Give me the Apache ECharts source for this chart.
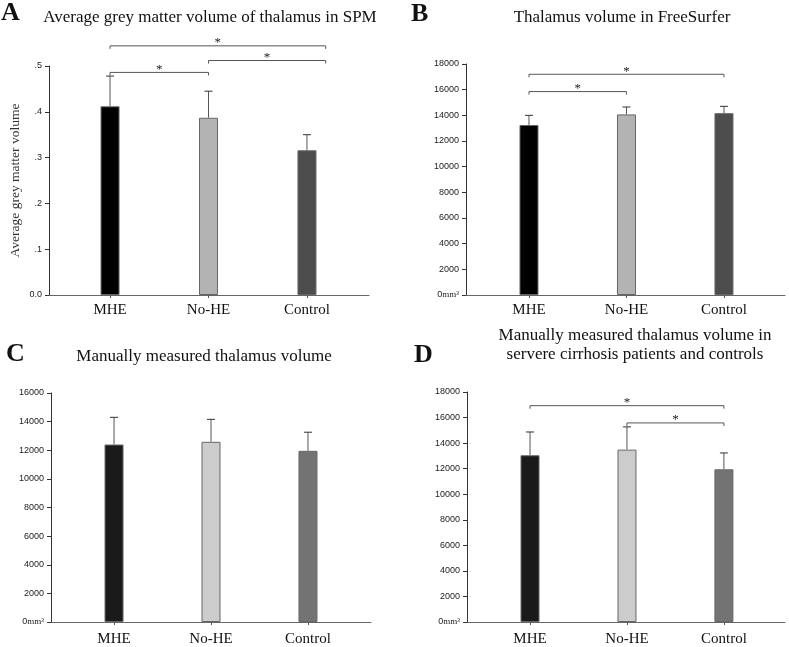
<!DOCTYPE html>
<html><head><meta charset="utf-8">
<script src="https://cdn.jsdelivr.net/npm/echarts@6/dist/echarts.min.js"></script>
<style>html,body{margin:0;padding:0;background:#fff}#c{width:789px;height:647px}</style>
</head><body><div id="c"></div>
<script>
const categories = ['MHE', 'No-HE', 'Control'];

// Panel A: SPM average grey matter volume
const aMeans = [0.412, 0.387, 0.316];
const aUpper = [0.478, 0.445, 0.350];
const aBrackets = [[0, 2.19, 0.544], [1, 2.19, 0.512], [0, 1, 0.486]];
const aTicks = [0, 0.1, 0.2, 0.3, 0.4, 0.5];

// Panel B: FreeSurfer thalamus volume
const bMeans = [13250, 14070, 14170];
const bUpper = [14000, 14650, 14700];
const bBrackets = [[0, 2, 17200], [0, 1, 15850]];

// Panel C: manually measured thalamus volume
const cMeans = [12400, 12590, 11960];
const cUpper = [14300, 14160, 13260];
const cBrackets = [];

// Panel D: severe cirrhosis patients and controls
const dMeans = [13050, 13490, 11950];
const dUpper = [14870, 15270, 13230];
const dBrackets = [[0, 2, 16930], [1, 2, 15580]];

const darkColors = ['#000000', '#b3b3b3', '#4d4d4d'];
const lightColors = ['#1a1a1a', '#cccccc', '#737373'];

const SERIF = '"Liberation Serif", "DejaVu Serif", serif';
const SANS = '"Liberation Sans", Arial, sans-serif';

const grids = [], xAxes = [], yAxes = [], series = [];

function addPanel(i, g, xr, ymax, step, yfmt, means, upper, colors, brackets, labelMargin, yName) {
  grids.push({left: g[0], top: g[1], width: g[2], height: g[3], containLabel: false});
  xAxes.push({
    gridIndex: i, type: 'value', min: xr[0], max: xr[1],
    axisLine: {show: true, onZero: false, lineStyle: {color: '#666', width: 1}},
    axisTick: {show: true, customValues: [0, 1, 2], length: 3, lineStyle: {color: '#555'}},
    axisLabel: {customValues: [0, 1, 2], formatter: v => categories[Math.round(v)] || '',
      fontFamily: SERIF, fontSize: 15, color: '#111', margin: labelMargin},
    splitLine: {show: false}
  });
  const y = {
    gridIndex: i, type: 'value', min: 0, max: ymax, interval: step,
    axisLine: {show: true, onZero: false, lineStyle: {color: '#333', width: 1}},
    axisTick: {show: true, length: 4, lineStyle: {color: '#333'}},
    axisLabel: {formatter: yfmt, fontFamily: SANS, fontSize: 9, color: '#222', margin: 7,
      rich: {u: {fontFamily: SERIF, fontSize: 9, color: '#222'}}},
    splitLine: {show: false}
  };
  if (yName) {
    Object.assign(y, {name: yName, nameLocation: 'middle', nameGap: 27, nameRotate: 90,
      nameTextStyle: {fontFamily: SERIF, fontSize: 13.5, color: '#333'}});
  }
  yAxes.push(y);
  series.push({
    type: 'bar', xAxisIndex: i, yAxisIndex: i, barWidth: 19,
    data: means.map((v, k) => ({value: [k, v], itemStyle: {color: colors[k]}})),
    itemStyle: {borderColor: '#666', borderWidth: 1},
    silent: true, animation: false
  });
  series.push({
    type: 'custom', xAxisIndex: i, yAxisIndex: i, animation: false, silent: true,
    data: means.map((m, k) => [k, m, upper[k]]),
    renderItem(params, api) {
      const x = api.value(0);
      const p0 = api.coord([x, api.value(1)]);
      const p1 = api.coord([x, api.value(2)]);
      return {type: 'group', children: [
        {type: 'line', shape: {x1: p0[0], y1: p0[1], x2: p1[0], y2: p1[1]}, style: {stroke: '#555', lineWidth: 1}},
        {type: 'line', shape: {x1: p1[0] - 4, y1: p1[1], x2: p1[0] + 4, y2: p1[1]}, style: {stroke: '#333', lineWidth: 1}}
      ]};
    }
  });
  if (brackets.length) {
    series.push({
      type: 'custom', xAxisIndex: i, yAxisIndex: i, animation: false, silent: true, clip: false,
      data: brackets,
      renderItem(params, api) {
        const a = api.coord([api.value(0), api.value(2)]);
        const b = api.coord([api.value(1), api.value(2)]);
        return {type: 'group', children: [
          {type: 'polyline', shape: {points: [[a[0], a[1] + 3], [a[0], a[1]], [b[0], b[1]], [b[0], b[1] + 3]]},
            style: {stroke: '#555', fill: null, lineWidth: 1}},
          {type: 'text', x: (a[0] + b[0]) / 2, y: a[1] - 3,
            style: {text: '*', font: '13px ' + SERIF, fill: '#222', align: 'center', verticalAlign: 'middle'}}
        ]};
      }
    });
  }
}

const fmtA = v => v === 0 ? '0.0' : '.' + Math.round(v * 10);
const fmtMM = v => v === 0 ? '0{u|mm³}' : String(v);

addPanel(0, [49, 66, 320, 229], [-0.62, 2.63], 0.5, 0.1, fmtA, aMeans, aUpper, darkColors, aBrackets, 8, 'Average grey matter volume');
addPanel(1, [466, 64, 319, 231], [-0.646, 2.626], 18000, 2000, fmtMM, bMeans, bUpper, darkColors, bBrackets, 8);
addPanel(2, [51, 393, 320, 230], [-0.65, 2.65], 16000, 2000, fmtMM, cMeans, cUpper, lightColors, cBrackets, 10);
addPanel(3, [467, 392, 318, 231], [-0.65, 2.63], 18000, 2000, fmtMM, dMeans, dUpper, lightColors, dBrackets, 10);

function t(text, x, y, size, bold, align) {
  return {type: 'text', x: x, y: y, silent: true,
    style: {text: text, font: (bold ? 'bold ' : '') + size + 'px ' + SERIF, fill: '#111',
      align: align || 'center', verticalAlign: 'middle'}};
}

const chart = echarts.init(document.getElementById('c'));
chart.setOption({
  animation: false,
  grid: grids, xAxis: xAxes, yAxis: yAxes, series: series,
  graphic: [
    t('A', 1, 13, 26, true, 'left'),
    t('Average grey matter volume of thalamus in SPM', 210, 18, 17),
    t('B', 411, 14, 26, true, 'left'),
    t('Thalamus volume in FreeSurfer', 622, 18, 17),
    t('C', 6, 354, 26, true, 'left'),
    t('Manually measured thalamus volume', 204, 357, 17),
    t('D', 414, 355, 26, true, 'left'),
    t('Manually measured thalamus volume in', 635, 336, 17),
    t('servere cirrhosis patients and controls', 635, 355, 17)
  ]
});
</script>
</body></html>
